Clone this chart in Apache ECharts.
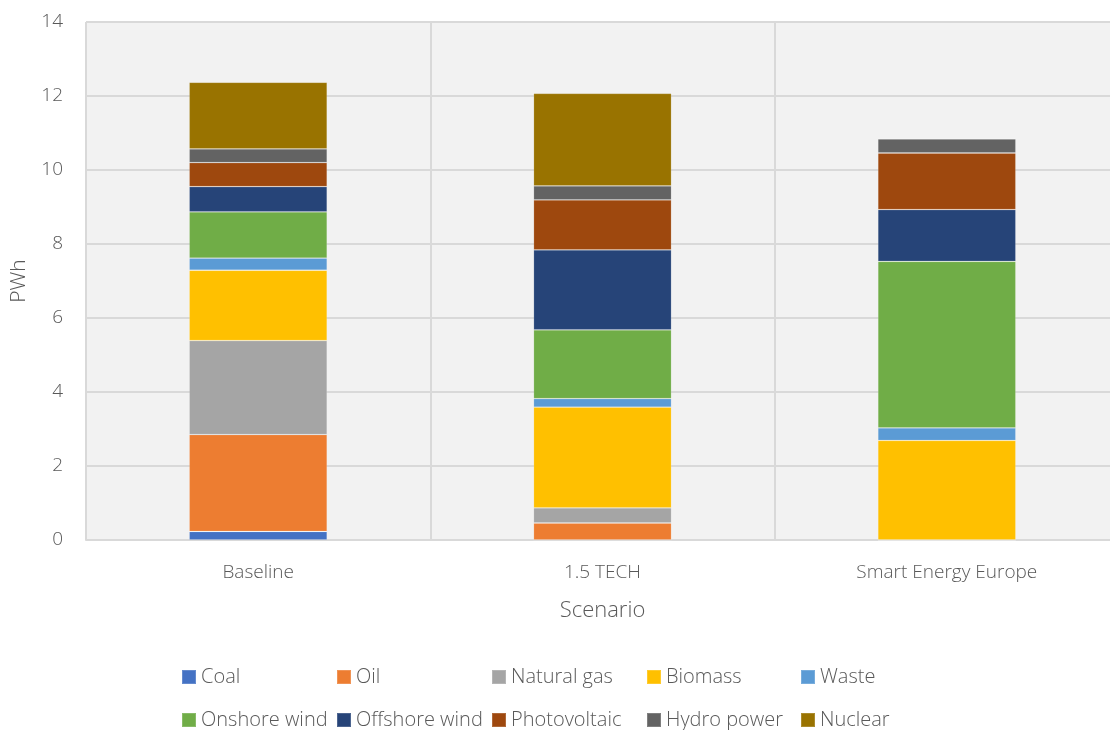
<!DOCTYPE html>
<html>
<head>
<meta charset="utf-8">
<script src="https://cdn.jsdelivr.net/npm/echarts@6/dist/echarts.min.js"></script>
<style>
  html, body { margin: 0; padding: 0; background: #ffffff; overflow: hidden; }
  /* the plot frame runs a little past the right edge of the window */
  #chart { width: 1119px; height: 730px; }
</style>
</head>
<body>
<div id="chart"></div>
<script>
// Electricity production by source per scenario (PWh)
const scenarios = ['Baseline', '1.5 TECH', 'Smart Energy Europe'];
const yTicks = [0, 2, 4, 6, 8, 10, 12, 14];

const coal        = [0.23, 0.00, 0.00];
const oil         = [2.62, 0.46, 0.00];
const naturalGas  = [2.54, 0.41, 0.00];
const biomass     = [1.90, 2.72, 2.69];
const waste       = [0.33, 0.23, 0.34];
const onshoreWind = [1.25, 1.86, 4.50];
const offshoreWind= [0.68, 2.16, 1.40];
const photovoltaic= [0.65, 1.35, 1.53];
const hydroPower  = [0.37, 0.38, 0.38];
const nuclear     = [1.80, 2.50, 0.00];

const sources = [
  { name: 'Coal',          data: coal,         color: '#4472c4' },
  { name: 'Oil',           data: oil,          color: '#ed7d31' },
  { name: 'Natural gas',   data: naturalGas,   color: '#a5a5a5' },
  { name: 'Biomass',       data: biomass,      color: '#ffc000' },
  { name: 'Waste',         data: waste,        color: '#5b9bd5' },
  { name: 'Onshore wind',  data: onshoreWind,  color: '#70ad47' },
  { name: 'Offshore wind', data: offshoreWind, color: '#264478' },
  { name: 'Photovoltaic',  data: photovoltaic, color: '#9e480e' },
  { name: 'Hydro power',   data: hydroPower,   color: '#636363' },
  { name: 'Nuclear',       data: nuclear,      color: '#997300' }
];

const FONT = '"Open Sans", "Segoe UI", sans-serif';
const TEXT = '#595959';

// Legend slots: two rows of five on a fixed column grid
const legendCols = [181, 336, 491, 646, 800];
const legendRows = [667, 710];

const legends = sources.map((s, i) => ({
  data: [s.name],
  left: legendCols[i % 5],
  top: legendRows[Math.floor(i / 5)],
  padding: 0,
  orient: 'horizontal',
  icon: 'rect',
  itemWidth: 14,
  itemHeight: 14,
  selectedMode: false,
  textStyle: {
    color: TEXT, fontFamily: FONT, fontWeight: 300, fontSize: 20,
    lineHeight: 20
  }
}));

const chart = echarts.init(document.getElementById('chart'), null, { renderer: 'canvas' });

chart.setOption({
  animation: false,
  backgroundColor: '#ffffff',
  grid: {
    left: 86, right: 0, top: 22, bottom: 190,
    show: true, backgroundColor: '#f2f2f2', borderWidth: 0,
    containLabel: false
  },
  legend: legends,
  xAxis: {
    type: 'category',
    data: scenarios,
    boundaryGap: true,
    name: 'Scenario',
    nameLocation: 'middle',
    nameGap: 60,
    nameTextStyle: { color: TEXT, fontFamily: FONT, fontWeight: 300, fontSize: 22 },
    axisLine: { show: true, lineStyle: { color: '#d9d9d9', width: 2 } },
    axisTick: { show: false },
    axisLabel: {
      color: TEXT, fontFamily: FONT, fontWeight: 300, fontSize: 19, margin: 23
    },
    splitLine: { show: true, lineStyle: { color: '#d9d9d9', width: 2 } }
  },
  yAxis: {
    type: 'value',
    min: yTicks[0],
    max: yTicks[yTicks.length - 1],
    interval: yTicks[1] - yTicks[0],
    name: 'PWh',
    nameLocation: 'middle',
    nameGap: 56,
    nameRotate: 90,
    nameTextStyle: { color: TEXT, fontFamily: FONT, fontWeight: 300, fontSize: 21 },
    axisLine: { show: false },
    axisTick: { show: false },
    axisLabel: {
      color: TEXT, fontFamily: FONT, fontWeight: 300, fontSize: 19, margin: 23
    },
    splitLine: { show: true, lineStyle: { color: '#d9d9d9', width: 2 } }
  },
  series: sources.map(s => ({
    name: s.name,
    type: 'bar',
    stack: 'total',
    barWidth: 138,
    data: s.data,
    itemStyle: {
      color: s.color,
      borderColor: 'rgba(255,255,255,0.18)',
      borderWidth: 0.8
    },
    emphasis: { disabled: true }
  }))
});
</script>
</body>
</html>
